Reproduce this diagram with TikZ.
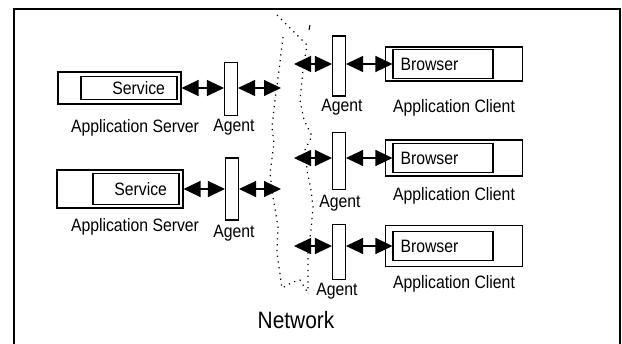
\documentclass[tikz,border=0pt]{standalone}
\usepackage{fontspec}
\setmainfont{Liberation Sans}[FakeStretch=0.88]
\usetikzlibrary{arrows.meta}
\tikzset{
    >={Triangle[length=3.4mm, width=3.2mm]},
    box/.style={draw, line width=0.6pt, inner sep=0pt},
    agent/.style={box, minimum width=0.26cm, minimum height=#1},
    service/.style={box, align=right, inner xsep=0.24cm, minimum height=#1},
    browser/.style={box, align=left, inner xsep=0.15cm, text width=1.7cm, minimum height=#1},
    link/.style={<->, line width=0.6pt},
    netline/.style={line width=0.7pt, dash pattern=on 0.7pt off 2.6pt},
}

\begin{document}
\begin{tikzpicture}[x=0.02cm, y=-0.02cm, every node/.style={font=\fontsize{10.2}{11}\selectfont}]
        \useasboundingbox (0,0) rectangle (622,344);
        \draw[line width=0.9pt] (14,344) -- (14,9) -- (620,9) -- (620,344);
        % network
        \draw[netline] (277,15) -- (292,30) -- (307,45) -- (303,70) -- (300,100) -- (304,120) -- (312,136)
            -- (305,150) -- (307,170) -- (311,190) -- (313,207) -- (311,230) -- (308,253) -- (308,293);
        \draw[netline] (283,37) -- (279,70) -- (275,100) -- (272,127) -- (274,143) -- (270,173) -- (273,197)
            -- (278,227) -- (277,253) -- (282,288) -- (293,282) -- (300,280) -- (308,293);
        \draw[line width=0.6pt] (310,25) -- (309,30);
        \node[font=\fontsize{13.5}{15}\selectfont] (net) at (296,320) {Network};
        % servers
        \node[box, minimum width=2.46cm, minimum height=0.64cm] (S1) at (119.5,88) {};
        \node[service=0.46cm, text width=1.44cm] (s1) at (129,88) {Service};
        \node[box, minimum width=2.52cm, minimum height=0.76cm] (S2) at (120,189) {};
        \node[service=0.62cm, text width=1.24cm] (s2) at (136,189) {Service};
        \node[agent=1.06cm] (A1) at (231,89) {};
        \node[agent=1.24cm] (A2) at (232,189) {};
        \coordinate (n1) at (281,88);
        \coordinate (n2) at (281,189);
        \foreach \i/\y in {1/128, 2/227} {
            \node (SL\i) at (135,\y) {Application Server};
            \draw[link] (S\i.east) -- (S\i.east -| A\i.west);
            \draw[link] (A\i.east |- n\i) -- (n\i);
        };
        \node (AL1) at (234,127) {Agent};
        \node (AL2) at (234,233) {Agent};
        % clients
        \foreach \i/\y/\ah/\cy/\ch/\ly in {3/66/1.2/64/0.68/108, 4/161/1.14/158/0.72/196, 5/252/1.1/246/0.82/284} {
            \node[agent=\ah cm] (A\i) at (339,\y) {};
            \node[box, minimum width=2.74cm, minimum height=\ch cm] (C\i) at (454,\cy) {};
            \node[browser=0.58cm] (c\i) at (443,\cy) {Browser};
            \node (CL\i) at (454,\ly) {Application Client};
            \coordinate (n\i) at (294,\cy);
            \draw[link] (n\i) -- (n\i -| A\i.west);
            \draw[link] (A\i.east |- n\i) -- (c\i.west);
        };
        \node (AL3) at (342,107) {Agent};
        \node (AL4) at (340,203) {Agent};
        \node (AL5) at (337,291) {Agent};
\end{tikzpicture}
\end{document}
